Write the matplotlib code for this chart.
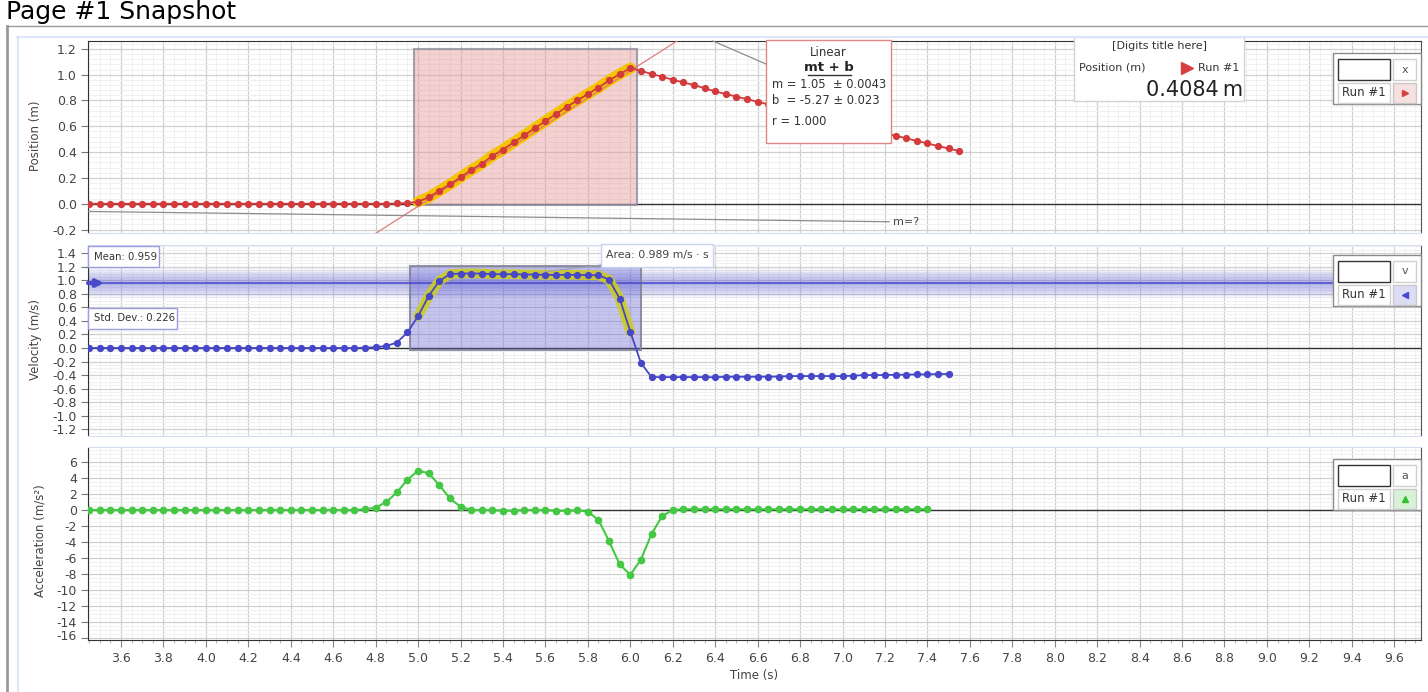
import numpy as np
import matplotlib
matplotlib.use('Agg')
import matplotlib.pyplot as plt
from matplotlib.patches import Rectangle
from matplotlib.ticker import MultipleLocator, FuncFormatter
from matplotlib.transforms import ScaledTranslation

plt.rcParams['font.family'] = ['DejaVu Sans']
plt.rcParams['axes.unicode_minus'] = False

W, H = 1428, 692

# --- data (20 Hz sampling) ---
time_grid = np.round(np.arange(3.45, 7.551, 0.05), 2)

position = ([0.0] * 29 + [0.002, 0.005] +
            [0.015, 0.05, 0.10, 0.15, 0.205, 0.26, 0.31, 0.37, 0.42, 0.475, 0.53,
             0.585, 0.64, 0.695, 0.75, 0.80, 0.85, 0.90, 0.955, 1.005, 1.05] +
            [1.03, 1.005, 0.985, 0.96, 0.94, 0.92, 0.895, 0.87, 0.85, 0.83, 0.81, 0.79,
             0.770, 0.750, 0.729, 0.709, 0.689, 0.669, 0.648, 0.628, 0.608, 0.588,
             0.568, 0.548, 0.527, 0.507, 0.487, 0.467, 0.447, 0.428, 0.408])

velocity = ([0.0] * 26 + [0.005] +
            [0.01, 0.03, 0.08, 0.23, 0.47, 0.77, 0.99, 1.09, 1.10, 1.10, 1.10, 1.09,
             1.09, 1.09, 1.085, 1.085, 1.08, 1.08, 1.08, 1.08, 1.075, 1.075, 1.01,
             0.73, 0.24, -0.22, -0.43] +
            [-0.43, -0.43, -0.43, -0.43, -0.43, -0.432, -0.425, -0.425, -0.425, -0.425,
             -0.423, -0.423, -0.415, -0.415, -0.415, -0.415, -0.415, -0.415, -0.41,
             -0.40, -0.40, -0.40, -0.395, -0.395, -0.39, -0.39, -0.385, -0.385])

acceleration = ([0.0] * 26 +
                [0.08, 0.3, 1.0, 2.2, 3.8, 4.9, 4.6, 3.1, 1.45, 0.4, 0.0, 0.0, 0.0,
                 -0.1, -0.1, 0.0, 0.0, 0.0, -0.1, -0.1, -0.05, -0.2, -1.25, -3.9,
                 -6.8, -8.1, -6.2, -3.0, -0.75, 0.0] +
                [0.1, 0.1, 0.1, 0.1, 0.1, 0.1, 0.1, 0.1, 0.1, 0.1, 0.1, 0.1,
                 0.1, 0.1, 0.1, 0.1, 0.1, 0.1, 0.1, 0.1, 0.1, 0.1, 0.1, 0.1])

t_pos = time_grid[:len(position)]
t_vel = time_grid[:len(velocity)]
t_acc = time_grid[:len(acceleration)]

fit_m, fit_b = 1.05, -5.27
fit_range = (5.0, 6.0)
pos_select = (4.98, 6.03, -0.01, 1.2)
vel_select = (4.96, 6.05, -0.03, 1.21)
vel_mean, vel_std = 0.959, 0.226
tangent_t = [3.44, 7.22]
tangent_y = [-0.06, -0.14]

RED, BLUE, GREEN = '#d23a3c', '#4646c8', '#44c844'

fig = plt.figure(figsize=(W / 100, H / 100), dpi=100)


def rect(top, bottom):
    return [88 / W, 1 - bottom / H, (1421 - 88) / W, (bottom - top) / H]


def fmt1(v, p):
    return f"{round(v, 1) + 0.0:.1f}"


def style(ax, ylim, major, minor, fmt):
    ax.set_xlim(3.4445, 9.726)
    ax.set_ylim(*ylim)
    ax.xaxis.set_major_locator(MultipleLocator(0.2))
    ax.xaxis.set_minor_locator(MultipleLocator(0.05))
    ax.yaxis.set_major_locator(MultipleLocator(major))
    ax.yaxis.set_minor_locator(MultipleLocator(minor))
    ax.yaxis.set_major_formatter(FuncFormatter(fmt))
    ax.grid(which='major', color='#d0d0d0', lw=0.9)
    ax.grid(which='minor', color='#f0f0f0', lw=0.7)
    ax.set_axisbelow(True)
    ax.tick_params(axis='y', which='major', length=5, width=0.8, color='#777',
                   labelsize=9, labelcolor='#444', pad=3)
    ax.tick_params(axis='y', which='minor', length=0)
    ax.tick_params(axis='x', which='both', length=0, labelbottom=False)
    ax.axhline(0, color='#333', lw=1, zorder=1.5)
    ax.spines['left'].set_color('#333')
    ax.spines['right'].set_color('#555')
    for s in ('top', 'bottom'):
        ax.spines[s].set_color('#d5ddf5')


ax1 = fig.add_axes(rect(41, 233))
ax2 = fig.add_axes(rect(245, 436))
ax3 = fig.add_axes(rect(447, 640))
style(ax1, (-0.227, 1.261), 0.2, 0.04, fmt1)
style(ax2, (-1.30, 1.521), 0.2, 0.05, fmt1)
style(ax3, (-16.25, 7.875), 2, 0.5, lambda v, p: f"{int(round(v))}")
ax1.spines['top'].set_color('#333')
ax3.spines['bottom'].set_color('#333')
ax3.tick_params(axis='x', which='major', length=5, color='#888', labelbottom=True,
                labelsize=9, labelcolor='#444', pad=4)
ax3.tick_params(axis='x', which='minor', length=2.5, color='#aaa')
ax3.xaxis.set_major_formatter(FuncFormatter(fmt1))

# --- position panel ---
x0, x1, y0, y1 = pos_select
ax1.add_patch(Rectangle((x0, y0), x1 - x0, y1 - y0, fc=(0.90, 0.60, 0.60, 0.45),
                        ec=(0.55, 0.55, 0.62, 0.8), lw=1.5, zorder=2))
sel = (t_pos >= fit_range[0] - 1e-9) & (t_pos <= fit_range[1] + 1e-9)
ax1.plot(t_pos[sel], np.array(position)[sel], color='#f5c400', lw=8,
         solid_capstyle='round', zorder=3)
tt = np.array(ax1.get_xlim())
ax1.plot(tt, fit_m * tt + fit_b, color='#e07a7a', lw=0.9, zorder=3)
ax1.plot(tangent_t, tangent_y, color='#8c8c8c', lw=0.9, zorder=3)
ax1.text(tangent_t[1] + 0.02, tangent_y[1], 'm=?', va='center', fontsize=8, color='#444')
ax1.plot(t_pos, position, color=RED, lw=1.3, marker='o', ms=4.2, zorder=4)

# --- velocity panel ---
for k in range(1, 9):
    half = vel_std * k / 8
    ax2.axhspan(vel_mean - half, vel_mean + half, color='#5555d5', alpha=0.06, lw=0, zorder=1.2)
ax2.axhline(vel_mean, color='#4848cc', lw=1.1, zorder=3)
ax2.annotate('', xy=(3.52, vel_mean), xytext=(3.4445, vel_mean),
             arrowprops=dict(arrowstyle='-|>', color='#4848cc', lw=3,
                             mutation_scale=10, shrinkA=0, shrinkB=0))
x0, x1, y0, y1 = vel_select
ax2.add_patch(Rectangle((x0, y0), x1 - x0, y1 - y0, fc=(0.35, 0.35, 0.82, 0.35),
                        ec=(0.5, 0.5, 0.58, 0.85), lw=1.5, zorder=2))
sel = (t_vel >= fit_range[0] - 1e-9) & (t_vel <= fit_range[1] + 1e-9)
ax2.plot(t_vel[sel], np.array(velocity)[sel], color='#cccc22', lw=7, alpha=0.9,
         solid_capstyle='round', zorder=3)
ax2.plot(t_vel, velocity, color=BLUE, lw=1.3, marker='o', ms=4.2, zorder=4)

# --- acceleration panel ---
ax3.plot(t_acc, acceleration, color=GREEN, lw=1.5, marker='o', ms=4.5, zorder=4)

# --- overlay in pixel coordinates ---
ov = fig.add_axes([0, 0, 1, 1], zorder=10)
ov.set_xlim(0, W)
ov.set_ylim(H, 0)
ov.axis('off')

ov.text(6, 12, 'Page #1 Snapshot', fontsize=18, va='center', ha='left')
ov.plot([7, 7], [26, H], color='#9a9a9a', lw=2)
ov.plot([7, W], [26, 26], color='#9a9a9a', lw=1)
ov.plot([17.5, 17.5], [37, H], color='#dde5f8', lw=1.5)
ov.plot([17, W], [37, 37], color='#dde5f8', lw=1.5)

ov.text(35, 136, 'Position (m)', rotation=90, ha='center', va='center', fontsize=8.5, color='#444')
ov.text(35, 340, 'Velocity (m/s)', rotation=90, ha='center', va='center', fontsize=8.5, color='#444')
ov.text(40, 541, 'Acceleration (m/s²)', rotation=90, ha='center', va='center', fontsize=8.5, color='#444')
ov.text(754, 676, 'Time (s)', ha='center', va='center', fontsize=8.5, color='#444')

# fit annotation box
ov.plot([713, 766], [41, 64], color='#8c8c8c', lw=0.9)
ov.add_patch(Rectangle((766, 40), 125, 103, fc='white', ec='#e08585', lw=1))
ov.text(828, 52, 'Linear', ha='center', va='center', fontsize=8.5, color='#333')
ov.text(829, 67.5, 'mt + b', ha='center', va='center', fontsize=9.5, fontweight='bold', color='#222')
ov.plot([808, 851], [75, 75], color='#333', lw=1)
ov.text(772, 84, 'm = 1.05  ± 0.0043', ha='left', va='center', fontsize=8.3, color='#333')
ov.text(772, 100.5, 'b  = -5.27 ± 0.023', ha='left', va='center', fontsize=8.3, color='#333')
ov.text(772, 121.5, 'r = 1.000', ha='left', va='center', fontsize=8.3, color='#333')

# digits box
ov.add_patch(Rectangle((1074, 37), 170, 64, fc='white', ec='#d4d4d4', lw=1))
ov.text(1160, 46, '[Digits title here]', ha='center', va='center', fontsize=8, color='#333')
ov.text(1079, 68, 'Position (m)', ha='left', va='center', fontsize=8, color='#333')
ov.plot(1187, 68, marker='>', color='#d84040', ms=8, ls='none')
ov.text(1198, 68, 'Run #1', ha='left', va='center', fontsize=8, color='#333')
ov.text(1243, 90.5, '0.4084\u2009m', ha='right', va='center', fontsize=15, color='#222')

# mean / std / area boxes
ov.add_patch(Rectangle((88, 246), 71, 21, fc='white', ec='#9c9ce0', lw=1))
ov.text(94, 256.5, 'Mean: 0.959', ha='left', va='center', fontsize=7.3, color='#333')
ov.add_patch(Rectangle((88, 308), 89, 20.5, fc='white', ec='#9c9ce0', lw=1))
ov.text(94, 318.3, 'Std. Dev.: 0.226', ha='left', va='center', fontsize=7.3, color='#333')
ov.plot([543, 601], [272, 265], color='#a0a0b0', lw=0.8)
ov.add_patch(Rectangle((601, 244), 112, 22.7, fc='white', ec='#c8d2f0', lw=1))
ov.text(606, 255.3, 'Area: 0.989 m/s · s', ha='left', va='center', fontsize=7.8, color='#444')


def legend_box(top, label, marker, mcolor, mbg):
    ov.add_patch(Rectangle((1333, top), 88, 50.7, fc='white', ec='#8a8a8a', lw=1))
    ov.add_patch(Rectangle((1338, top + 6), 51.5, 20.7, fc='white', ec='#333', lw=1))
    ov.add_patch(Rectangle((1393, top + 6), 23, 20.7, fc='white', ec='#d0d0d0', lw=1))
    ov.text(1404.5, top + 16.5, label, ha='center', va='center', fontsize=8, color='#555')
    ov.add_patch(Rectangle((1338, top + 29.5), 51.5, 20.5, fc='white', ec='#d0d0d0', lw=1))
    ov.text(1363.5, top + 39.7, 'Run #1', ha='center', va='center', fontsize=8.5, color='#333')
    ov.add_patch(Rectangle((1393, top + 29.5), 23, 20.5, fc=mbg, ec='#c8c8c8', lw=1))
    ov.plot(1404.5, top + 39.7, marker=marker, color=mcolor, ms=5, ls='none')


legend_box(53.3, 'x', '>', '#d84040', '#f6e0e0')
legend_box(255, 'v', '<', '#4848d0', '#dcdcf4')
legend_box(459.3, 'a', '^', '#30c030', '#d8f2d8')

# lowest acceleration tick label is nudged up a little, as in the snapshot
fig.canvas.draw()
for lbl in ax3.get_yticklabels():
    if lbl.get_text() == '-16':
        lbl.set_transform(lbl.get_transform() + ScaledTranslation(0, 3 / 100, fig.dpi_scale_trans))

fig.savefig('out.png', dpi=100)
